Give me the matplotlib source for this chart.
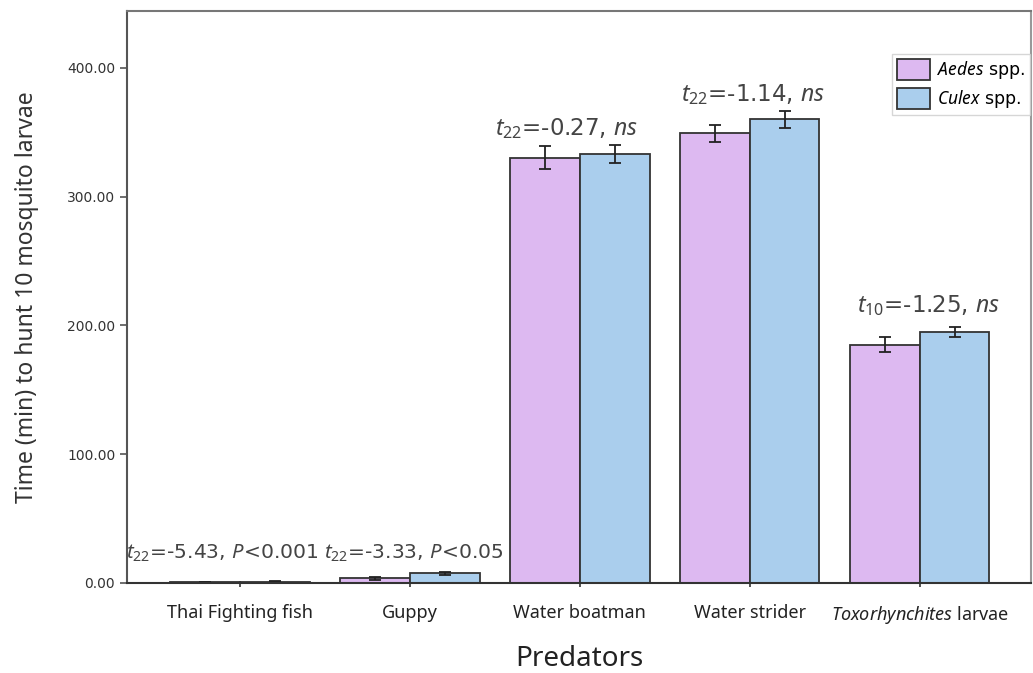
import matplotlib
matplotlib.use("Agg")
import matplotlib.pyplot as plt
import numpy as np

plt.rcParams["mathtext.fontset"] = "custom"
plt.rcParams["mathtext.rm"] = "Noto Sans"
plt.rcParams["mathtext.it"] = "Noto Sans:italic"

predators = ["Thai Fighting fish", "Guppy", "Water boatman", "Water strider",
             r"$\it{Toxorhynchites}$ larvae"]
aedes_mean = [0.6, 3.5, 330.0, 349.0, 185.0]
aedes_err = [0.4, 0.8, 9.0, 6.5, 6.0]
culex_mean = [1.0, 7.5, 333.0, 360.0, 195.0]
culex_err = [0.4, 1.2, 7.0, 6.5, 4.0]
stats = [r"$t_{22}$=-5.43, $P$<0.001", r"$t_{22}$=-3.33, $P$<0.05",
         r"$t_{22}$=-0.27, $ns$", r"$t_{22}$=-1.14, $ns$", r"$t_{10}$=-1.25, $ns$"]
stat_dx = [-0.103, 0.024, -0.08, 0.02, 0.05]
stat_y = [23, 23, 353, 379, 215]
stat_size = [14.6, 14.6, 16.5, 16.5, 16.5]
yticks = [0, 100, 200, 300, 400]

aedes_color = "#DDB9F1"
culex_color = "#AACEED"
edge = "#333333"

fig = plt.figure(figsize=(10.33, 6.73), dpi=100)
ax = fig.add_axes([127 / 1033, 1 - 583 / 673, (1031 - 127) / 1033, (583 - 11) / 673])

x = np.arange(len(predators))
w = 0.41
err_kw = dict(ecolor="#222222", elinewidth=1.3, capthick=1.3)
ax.bar(x - w / 2, aedes_mean, w, yerr=aedes_err, capsize=4.5, color=aedes_color,
       edgecolor=edge, linewidth=1.3, error_kw=err_kw, label=r"$\it{Aedes}$ spp.")
ax.bar(x + w / 2, culex_mean, w, yerr=culex_err, capsize=4.5, color=culex_color,
       edgecolor=edge, linewidth=1.3, error_kw=err_kw, label=r"$\it{Culex}$ spp.")

for i, s in enumerate(stats):
    ax.text(x[i] + stat_dx[i], stat_y[i], s, ha="center", va="center",
            fontsize=stat_size[i], color="#444444")

ax.set_xlim(-0.665, 4.655)
ax.set_ylim(0, 444)
ax.set_yticks(yticks)
ax.set_yticklabels([f"{v:.2f}" for v in yticks], fontsize=10, color="#333333",
                   family="DejaVu Sans")
ax.set_xticks(x)
ax.set_xticklabels(predators, fontsize=13, family="Noto Sans", color="#222222")
ax.tick_params(axis="y", length=5, width=1.2, color="#555555")
ax.tick_params(axis="x", length=3, width=1.2, color="#333333", pad=12)

for side in ["left", "top", "right", "bottom"]:
    ax.spines[side].set_linewidth(1.5)
ax.spines["left"].set_color("#555555")
ax.spines["top"].set_color("#777777")
ax.spines["right"].set_color("#999999")
ax.spines["bottom"].set_color("#333333")

ax.set_ylabel("Time (min) to hunt 10 mosquito larvae", fontsize=16.5,
              family="Noto Sans", color="#333333", labelpad=20)
ax.set_xlabel("Predators", fontsize=20, family="Noto Sans", color="#222222",
              labelpad=14)

leg = ax.legend(loc="upper right", bbox_to_anchor=(0.999, 0.925), fontsize=12.5,
                frameon=True, fancybox=False, edgecolor="#cccccc",
                handlelength=1.9, handleheight=1.5, handletextpad=0.4,
                borderpad=0.3, labelspacing=0.35, borderaxespad=0)
leg.get_frame().set_linewidth(1.0)

fig.savefig("out.png", dpi=100)
